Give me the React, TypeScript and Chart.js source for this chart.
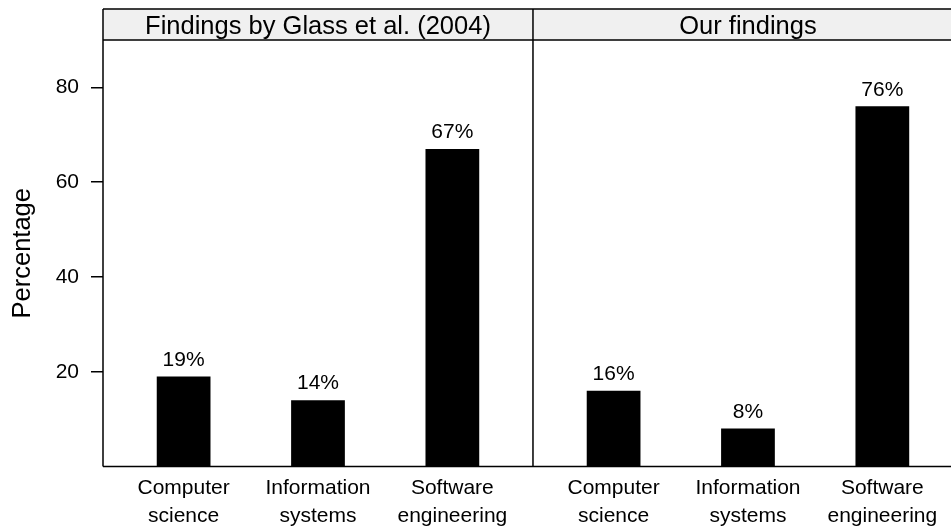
import React, { useEffect, useRef } from "react";
import { Chart, registerables } from "chart.js";

Chart.register(...registerables);

const panelTitles = ["Findings by Glass et al. (2004)", "Our findings"];
const categories = [
  ["Computer", "science"],
  ["Information", "systems"],
  ["Software", "engineering"],
];
const glassValues = [19, 14, 67];
const ourValues = [16, 8, 76];
const yTicks = [20, 40, 60, 80];
const yLabel = "Percentage";

const FONT = '"Liberation Sans", Arial, Helvetica, sans-serif';
const PANEL_UNITS = 3.2; // each panel spans 0.4 .. 3.6 units
const X_MIN = 0.4;
const X_MAX = 6.711;

const panelValues = [glassValues, ourValues];
const barPositions: number[] = [];
const barValues: number[] = [];
panelValues.forEach((vals, p) => {
  vals.forEach((v, i) => {
    barPositions.push(i + 1 + p * PANEL_UNITS);
    barValues.push(v);
  });
});

const decorPlugin = {
  id: "latticeDecor",
  afterDatasetsDraw(chart: any) {
    const { ctx, chartArea, scales } = chart;
    const { left, right, top, bottom } = chartArea;
    const x = scales.x;
    const y = scales.y;
    const stripTop = 9;
    const divX = x.getPixelForValue(X_MIN + PANEL_UNITS);
    ctx.save();
    // strips
    ctx.fillStyle = "#f0f0f0";
    ctx.fillRect(left, stripTop, right - left, top - stripTop);
    ctx.strokeStyle = "#000";
    ctx.lineWidth = 1.5;
    ctx.beginPath();
    ctx.moveTo(left, stripTop);
    ctx.lineTo(right, stripTop);
    ctx.moveTo(left, top);
    ctx.lineTo(right, top);
    ctx.moveTo(left, stripTop);
    ctx.lineTo(left, bottom);
    ctx.moveTo(divX, stripTop);
    ctx.lineTo(divX, bottom);
    ctx.moveTo(left, bottom);
    ctx.lineTo(right, bottom);
    ctx.stroke();
    // strip titles
    ctx.fillStyle = "#000";
    ctx.font = `25.5px ${FONT}`;
    ctx.textAlign = "center";
    ctx.textBaseline = "alphabetic";
    panelTitles.forEach((t, p) => {
      const cx = x.getPixelForValue(2 + p * PANEL_UNITS);
      ctx.fillText(t, cx, 34);
    });
    // data labels
    ctx.font = `21px ${FONT}`;
    ctx.textBaseline = "middle";
    barPositions.forEach((pos, i) => {
      const v = barValues[i];
      ctx.fillText(`${v}%`, x.getPixelForValue(pos), y.getPixelForValue(v) - 16.5);
    });
    // y label
    ctx.save();
    ctx.font = `25.5px ${FONT}`;
    ctx.translate(30, (top + bottom) / 2);
    ctx.rotate(-Math.PI / 2);
    ctx.textAlign = "center";
    ctx.textBaseline = "alphabetic";
    ctx.fillText(yLabel, 0, 0);
    ctx.restore();
    ctx.restore();
  },
};

export default function App() {
  const ref = useRef<HTMLCanvasElement | null>(null);
  useEffect(() => {
    if (!ref.current) return;
    const chart = new Chart(ref.current, {
      type: "bar",
      data: {
        datasets: [
          {
            data: barPositions.map((p, i) => ({ x: p, y: barValues[i] })),
            backgroundColor: "#000",
            borderWidth: 0,
            barPercentage: 0.4,
            categoryPercentage: 1,
          },
        ],
      },
      options: {
        animation: false,
        responsive: false,
        layout: { padding: { top: 40, left: 0, right: 0, bottom: 0 } },
        plugins: { legend: { display: false }, tooltip: { enabled: false } },
        scales: {
          x: {
            type: "linear",
            offset: false,
            min: X_MIN,
            max: X_MAX,
            afterBuildTicks: (scale: any) => {
              scale.ticks = barPositions.map((v) => ({ value: v }));
            },
            afterFit: (scale: any) => {
              scale.height = 62.5;
            },
            grid: { display: false, drawTicks: false, offset: false },
            border: { display: false },
            ticks: {
              autoSkip: false,
              maxRotation: 0,
              minRotation: 0,
              padding: 7,
              color: "#000",
              font: { family: FONT, size: 21, lineHeight: 1.37 },
              callback: (_v: any, i: number) => categories[i % categories.length],
            },
          },
          y: {
            type: "linear",
            min: 0,
            max: 90,
            afterBuildTicks: (scale: any) => {
              scale.ticks = yTicks.map((v) => ({ value: v }));
            },
            afterFit: (scale: any) => {
              scale.width = 103;
            },
            grid: {
              drawOnChartArea: false,
              drawTicks: true,
              tickLength: 12,
              color: "#000",
              lineWidth: 1.5,
            },
            border: { display: false },
            ticks: {
              padding: 12,
              color: "#000",
              font: { family: FONT, size: 21 },
            },
          },
        },
      },
      plugins: [decorPlugin],
    } as any);
    return () => chart.destroy();
  }, []);
  return (
    <div style={{ position: "absolute", left: 0, top: 0, width: 951, height: 529, background: "#fff" }}>
      <canvas ref={ref} width={951} height={529} style={{ display: "block" }} />
    </div>
  );
}
